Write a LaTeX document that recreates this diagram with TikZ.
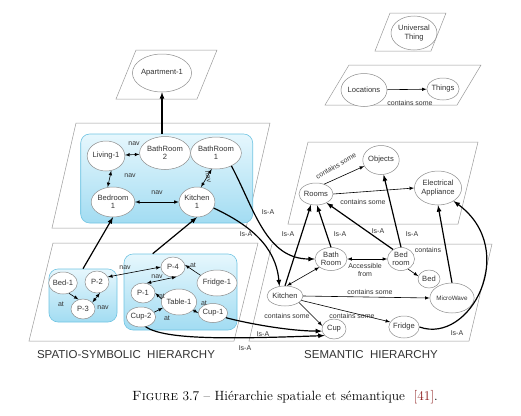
\documentclass[tikz,border=0pt]{standalone}
\usepackage{fontspec}
\newfontfamily\arialfont{Liberation Sans}
\usetikzlibrary{arrows, calc, shapes.geometric}
\definecolor{zonetop}{HTML}{E6F7FD}
\definecolor{zonebot}{HTML}{A2DCF2}
\definecolor{zoneline}{HTML}{70C4E2}
\definecolor{inkgray}{HTML}{333333}
\definecolor{citered}{HTML}{8B1A1A}
\tikzset{
  plane/.style={draw=gray!80, line width=.5pt},
  zone/.style={draw=zoneline, line width=.6pt, rounded corners=9pt, top color=zonetop, bottom color=zonebot, inner sep=0pt},
  obj/.style={ellipse, draw=gray!90, fill=white, line width=.5pt, inner sep=0pt, align=center, text=inkgray, font=\arialfont\fontsize{7.6}{8.4}\selectfont},
  lbl/.style={inner sep=0pt, text=inkgray, align=center, font=\arialfont\fontsize{7}{8}\selectfont},
  rel/.style={<->, >=latex, line width=.6pt},
  has/.style={->, >=latex, line width=.6pt},
  isa/.style={->, >=latex, line width=1.2pt},
  headline/.style={inner sep=0pt, text=inkgray, font=\arialfont\fontsize{11.5}{13}\selectfont}
}
\begin{document}
\begin{tikzpicture}[x=1pt, y=-1pt]
\useasboundingbox (0,0) rectangle (521,415);
% planes
\foreach \xl/\xr/\yt/\yb/\s in {390/446/13/51/15, 349/481/65/105/24, 136/217/50/99/20,
    76/270/123/228/24, 53/258/243/341/24, 308/478/142/224/20, 272/492/244/341/23}
  \draw[plane] (\xl,\yt) -- (\xr,\yt) -- (\xr-\s,\yb) -- (\xl-\s,\yb) -- cycle;

% top ontology
\node[obj, minimum width=46pt, minimum height=34pt] (universal) at (414,33) {Universal\\Thing};
\node[obj, minimum width=46pt, minimum height=33pt] (locations) at (364,90) {Locations};
\node[obj, minimum width=29pt, minimum height=22pt] (things) at (443,89) {Things};
\draw[has] (locations) -- (things);
\node[lbl] (containsA) at (410,103) {contains some};

% apartment
\node[obj, minimum width=49pt, minimum height=38pt] (apartment) at (162,73) {Apartment-1};

% rooms
\node[zone, minimum width=172pt, minimum height=89pt] (roomzone) at (166.7,178.5) {};
\node[obj, minimum width=32pt, minimum height=30pt] (living) at (106,156) {Living-1};
\node[obj, minimum width=38pt, minimum height=33pt] (bathtwo) at (165,153) {BathRoom\\2};
\node[obj, minimum width=38pt, minimum height=32pt] (bathone) at (216,153) {BathRoom\\1};
\node[obj, minimum width=42pt, minimum height=30pt] (bedone) at (113,202) {Bedroom\\1};
\node[obj, minimum width=34pt, minimum height=30pt] (kitone) at (197,202) {Kitchen\\1};
\draw[rel] (living) -- (bathtwo);
\draw[rel] (living.-70) -- (bedone.110);
\draw[rel] (bedone) -- (kitone);
\draw[rel] (bathone.-105) -- (kitone.75);
\node[lbl] (navA) at (134,144) {nav};
\node[lbl] (navB) at (130,176) {nav};
\node[lbl] (navC) at (157,193) {nav};
\node[lbl, rotate=-80] (navD) at (208,177) {nav};
\draw[isa] (apartment.south |- roomzone.north) -- (apartment.south);

% objects
\node[zone, minimum width=68pt, minimum height=53pt] (bedzone) at (83,295.5) {};
\node[zone, minimum width=113pt, minimum height=76pt] (tablezone) at (180.5,292) {};
\node[obj, minimum width=24pt, minimum height=22pt] (bedA) at (63,283) {Bed-1};
\node[obj, minimum width=24pt, minimum height=22pt] (ptwo) at (97,282) {P-2};
\node[obj, minimum width=24pt, minimum height=20pt] (pthree) at (83,309) {P-3};
\node[obj, minimum width=24pt, minimum height=20pt] (pfour) at (173,267) {P-4};
\node[obj, minimum width=34pt, minimum height=26pt] (fridgeA) at (217,283) {Fridge-1};
\node[obj, minimum width=24pt, minimum height=20pt] (pone) at (143,293) {P-1};
\node[obj, minimum width=30pt, minimum height=26pt] (tableA) at (179,302) {Table-1};
\node[obj, minimum width=26pt, minimum height=20pt] (cuptwo) at (141,317) {Cup-2};
\node[obj, minimum width=27pt, minimum height=19pt] (cupone) at (213,313) {Cup-1};
\draw[has] (bedA.-60) -- (pthree.115);
\draw[rel] (pthree.35) -- (ptwo.-75);
\draw[rel] (ptwo.25) -- (pfour.west);
\draw[rel] (pone.70) -- (pfour.-70);
\draw[has] (fridgeA.155) -- (pfour.10);
\draw[has] (tableA.170) -- (pone.east);
\draw[has] (cuptwo.20) -- (tableA.200);
\draw[has] (tableA.-30) -- (cupone.west);
\node[lbl] (atA) at (61,304) {at};
\node[lbl] (navE) at (103,308) {nav};
\node[lbl] (navF) at (125,268) {nav};
\node[lbl] (navG) at (157,277) {nav};
\node[lbl] (atB) at (193,265) {at};
\node[lbl] (atC) at (162,296) {at};
\node[lbl] (atD) at (167,318) {at};
\node[lbl] (atE) at (204,303) {at};
\draw[isa] (bedzone.north) -- (bedone.south);
\draw[isa] ([xshift=29pt]tablezone.north west) -- (kitone.south);

% semantic, upper
\node[obj, minimum width=30pt, minimum height=29pt] (objects) at (381,160) {Objects};
\node[obj, minimum width=30pt, minimum height=22pt] (rooms) at (316,194) {Rooms};
\node[obj, minimum width=41pt, minimum height=34pt] (appliance) at (438,188) {Electrical\\Appliance};
\draw[has] (rooms.50) -- (objects.200);
\node[lbl, rotate=30] (containsB) at (336,166) {contains some};
\draw[has] (rooms.east) -- (appliance.west);
\node[lbl] (containsC) at (363,202) {contains some};

% semantic, lower
\node[obj, minimum width=32pt, minimum height=23pt] (bathroom) at (331,259) {Bath\\Room};
\node[obj, minimum width=27pt, minimum height=23pt] (bedroom) at (401,259) {Bed\\room};
\node[obj, minimum width=22pt, minimum height=18pt] (bed) at (429,279) {Bed};
\node[obj, minimum width=31pt, minimum height=20pt] (kitchen) at (285,296) {Kitchen};
\node[obj, minimum width=41pt, minimum height=30pt, font=\arialfont\fontsize{6.3}{7}\selectfont] (microwave) at (452,298) {MicroWave};
\node[obj, minimum width=24pt, minimum height=20pt] (cup) at (334,329) {Cup};
\node[obj, minimum width=27pt, minimum height=22pt] (fridge) at (404,327) {Fridge};
\draw[rel] (bathroom) -- (bedroom);
\node[lbl] (accessible) at (365,270) {Accessible\\from};
\draw[rel] (kitchen.80) -- (bathroom.-145);
\draw[has] (bedroom.-55) -- (bed.165);
\node[lbl] (containsD) at (428,250) {contains};
\draw[has] (kitchen.east) -- (microwave.west);
\node[lbl] (containsE) at (370,292) {contains some};
\draw[has] (kitchen.-15) -- (fridge.160);
\node[lbl] (containsF) at (352,316) {contains some};
\draw[has] (kitchen.-25) -- (cup.165);
\node[lbl] (containsG) at (287,316) {contains some};

% is-a
\draw[isa] (kitchen.north) -- (rooms.-115);
\node[lbl] (isaA) at (288,234) {Is-A};
\draw[isa] (bathroom.north) -- (rooms.-85);
\node[lbl] (isaB) at (340,234) {Is-A};
\draw[isa] (bedroom.130) -- (rooms.-40);
\node[lbl] (isaC) at (378,231) {Is-A};
\draw[isa] (bedroom.north) -- (objects.-80);
\node[lbl] (isaD) at (412,234) {Is-A};
\draw[isa] (microwave.north) -- (appliance.south);
\draw[isa] (fridge.east) .. controls (470,345) and (520,250) .. (appliance.-40);
\node[lbl] (isaE) at (457,333) {Is-A};
\draw[isa] (bathone.-40) to[out=-62, in=180] (bathroom.west);
\node[lbl] (isaF) at (268,212) {Is-A};
\draw[isa] (kitone.-20) to[out=-25, in=95] (kitchen.120);
\node[lbl] (isaG) at (246,234) {Is-A};
\draw[isa] (cupone.-20) .. controls (250,324) and (290,331) .. (cup.-170);
\node[lbl] (isaH) at (263,334) {Is-A};
\draw[isa] (cuptwo.-65) .. controls (165,340) and (230,339) .. (cup.-145);
\node[lbl] (isaI) at (245,348) {Is-A};

% titles
\node[headline] (spatiotitle) at (126,355) {SPATIO-SYMBOLIC\ \ HIERARCHY};
\node[headline] (semantictitle) at (371,355) {SEMANTIC\ \ HIERARCHY};
\node[inner sep=0pt, font=\fontsize{13.4}{15}\selectfont] (caption) at (285,397)
  {\textsc{Figure} 3.7 -- Hiérarchie spatiale et sémantique~~\textcolor{citered}{[41]}.};
\end{tikzpicture}
\end{document}
